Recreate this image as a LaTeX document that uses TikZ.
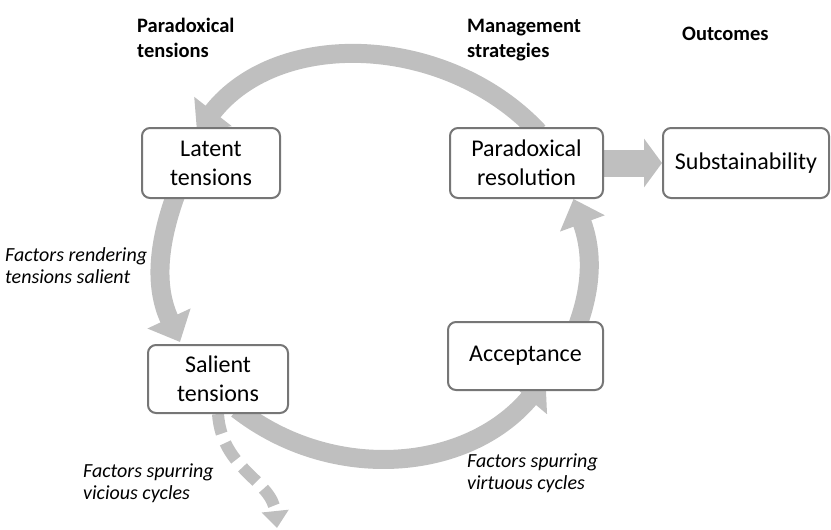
\documentclass[tikz,border=0pt]{standalone}
\usepackage{fontspec}
\setmainfont{Carlito}
\usetikzlibrary{arrows.meta,backgrounds,positioning}
\definecolor{arrowgray}{RGB}{191,191,191}
\definecolor{boxgray}{RGB}{118,118,118}

\begin{document}
\begin{tikzpicture}[x=1pt,y=-1pt,
  tbox/.style={draw=boxgray,line width=2pt,rounded corners=8pt,fill=white,
    align=center,inner sep=0pt,font=\fontsize{24}{29}\selectfont},
  hdr/.style={anchor=base west,align=left,inner sep=0pt,
    font=\fontsize{20.5}{25}\selectfont\bfseries},
  fac/.style={anchor=base west,align=left,inner sep=0pt,
    font=\fontsize{20}{21.5}\selectfont\itshape},
  cyc/.style={draw=arrowgray,line width=19pt,-{Triangle[width=46pt,length=26pt]}}]
  \useasboundingbox (0,0) rectangle (831,530);
  % boxes
  \node[tbox,minimum width=138pt,minimum height=70pt] (latent) at (211,163) {Latent\\tensions};
  \node[tbox,minimum width=153pt,minimum height=70pt] (parares) at (526.5,163) {Paradoxical\\resolution};
  \node[tbox,minimum width=166pt,minimum height=70pt] (sustain) at (746,163) {Substainability};
  \node[tbox,minimum width=140pt,minimum height=68pt] (salient) at (218,379) {Salient\\tensions};
  \node[tbox,minimum width=155pt,minimum height=68pt] (accept) at (525.5,356) {Acceptance};
  % column heads (base = last line)
  \node[hdr] (hparadox) at (137,57) {Paradoxical\\tensions};
  \node[hdr] (hmanage) at (467,57) {Management\\strategies};
  \node[hdr] (houtcome) at (682,41) {Outcomes};
  % factors
  \node[fac] (frender) at (5,283) {Factors rendering\\tensions salient};
  \node[fac] (fvicious) at (83,499) {Factors spurring\\vicious cycles};
  \node[fac] (fvirtuous) at (467,489) {Factors spurring\\virtuous cycles};
  \coordinate (vicend) at (277,528);
  \begin{scope}[on background layer]
    \draw[cyc] ([xshift=12pt,yshift=-5pt]parares.north) to[out=133,in=52] ([xshift=-14pt,yshift=-5pt]latent.north);
    \draw[cyc] ([xshift=-35pt,yshift=5pt]latent.south) to[out=250,in=115] ([xshift=-38pt,yshift=2pt]salient.north);
    \draw[cyc] ([xshift=19pt,yshift=5pt]salient.south) to[out=322,in=230] ([xshift=20pt,yshift=12pt]accept.south);
    \draw[cyc] ([xshift=52pt,yshift=-5pt]accept.north) to[out=70,in=290] ([xshift=47pt]parares.south);
    \draw[draw=arrowgray,line width=27pt,-{Triangle[width=48pt,length=18pt]}] (parares.east) -- (sustain.west);
    \draw[draw=arrowgray,line width=12pt,dash pattern=on 20pt off 10pt,
      -{Triangle[width=26pt,length=17pt]}] (salient.south) .. controls (222,470) and (272,480) .. (vicend);
  \end{scope}
\end{tikzpicture}
\end{document}
